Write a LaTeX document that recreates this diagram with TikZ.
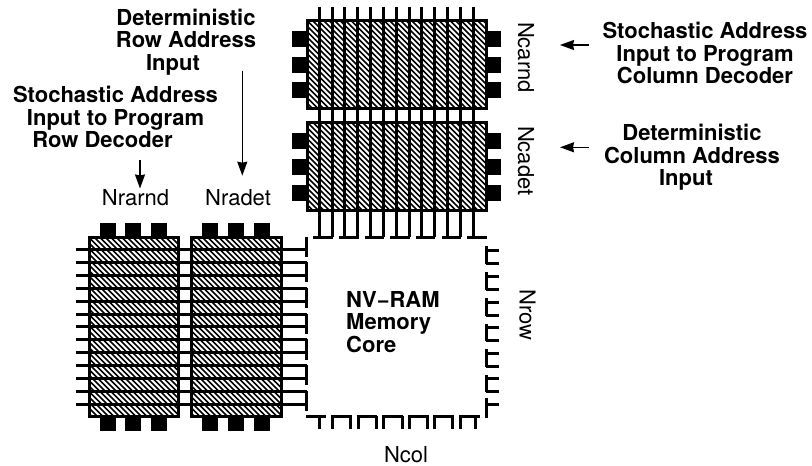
\documentclass[tikz,border=0pt]{standalone}
\usepackage{fontspec}
\setmainfont{TeX Gyre Heros}
\usetikzlibrary{arrows.meta}
\tikzset{
  hatchframe/.style={draw=black,line width=3pt},
  hatchline/.style={draw=black,line width=1.7pt},
  pad/.style={fill=black,draw=none},
  wire/.style={draw=black,line width=3pt,line cap=butt,line join=miter},
  combwire/.style={draw=black,line width=3pt,line cap=butt,line join=miter},
  boldlabel/.style={font=\bfseries\fontsize{22}{22.6}\selectfont,align=center,inner sep=0pt},
  corelabel/.style={font=\bfseries\fontsize{22}{22.4}\selectfont,align=left,inner sep=0pt},
  plainlabel/.style={font=\fontsize{22}{24}\selectfont,inner sep=0pt},
  pointer/.style={draw=black,line width=1.5pt,-{Stealth[length=14pt,width=10pt,inset=1pt]}}
}
\newcommand{\hatchblock}[4]{%
  \begin{scope}
    \clip (#1,#2) rectangle (#3,#4);
    \foreach \k in {-34,...,34}{
      \draw[hatchline] ({#1+5.5*\k},#2) -- ({#1+5.5*\k+200},{#2+200});
    }
  \end{scope}
  \draw[hatchframe] (#1,#2) rectangle (#3,#4);
}
\begin{document}
\begin{tikzpicture}[x=1pt,y=-1pt]
\useasboundingbox (0,0) rectangle (812,466);
% hatched blocks
\hatchblock{307}{20.5}{486}{108}
\hatchblock{307}{122}{486}{210.5}
\hatchblock{89}{237.5}{178}{416.5}
\hatchblock{191.5}{237.5}{281}{416.5}
% side pads of the top blocks
\foreach \y in {31,56.7,82.3,133.3,159,184.7}{
  \fill[pad] (292.3,\y) rectangle (305.5,\y+16);
  \fill[pad] (487.5,\y) rectangle (500.7,\y+16);
}
% top and bottom pads of the left blocks
\foreach \x in {99.7,125.3,151,202.3,228,253.7}{
  \fill[pad] (\x,223.3) rectangle (\x+16,236);
  \fill[pad] (\x,418) rectangle (\x+16,431);
}
% column wires through the top blocks
\foreach \i in {0,...,12}{
  \draw[wire] ({319.3+12.83*\i},7) -- ({319.3+12.83*\i},237);
}
\foreach \a/\b in {313.3/332.8,339/358.5,364.7/384,390.3/409.7,416/435.3,441.7/461,467.3/487}{
  \draw[combwire] (\a,237) -- (\b,237);
}
% row wires through the left blocks
\foreach \i in {0,...,12}{
  \draw[combwire] (75.7,{249.7+12.87*\i}) -- (306.7,{249.7+12.87*\i});
}
\foreach \a/\b in {236.7/256.7,261.5/282,287.5/308,313.5/334,339/359.5,365/385,391/410.5}{
  \draw[combwire] (306.7,\a) -- (306.7,\b);
}
% bottom comb of the core
\foreach \a/\b in {306/325.7,331/351.7,356.7/377,382.3/403,408/428.7,433.3/454,459/480}{
  \draw[combwire] (\a,416) -- (\b,416);
}
\foreach \x in {319.3,332.5,350,358,376,383.5,402,409,427,434.5,452.5,460,475}{
  \draw[combwire] (\x,416) -- (\x,429.3);
}
% right comb of the core
\foreach \a/\b in {246/263.5,272/289.5,298/315.5,323.5/341,349/366.5,374.5/392,398/417.5}{
  \draw[combwire] (486,\a) -- (486,\b);
}
\foreach \y in {250,263,276,289,302,315,327.5,340.5,353,366,378.5,391.5,404}{
  \draw[combwire] (486,\y) -- (499.3,\y);
}
% labels
\node[boldlabel] (detrow) at (186,42) {Deterministic\\Row Address\\Input\hspace*{26pt}};
\node[boldlabel] (stochrow) at (115.5,117) {Stochastic Address\\Input to Program\\Row Decoder\hspace*{26pt}};
\node[boldlabel] (stochcol) at (705,53) {Stochastic Address\\Input to Program\\Column Decoder};
\node[boldlabel] (detcol) at (692,157.5) {Deterministic\\Column Address\\Input\hspace*{12pt}};
\node[corelabel,anchor=west] (core) at (346,322) {NV−RAM\\Memory\\Core};
\node[plainlabel,anchor=base] (nrarnd) at (135.5,205) {Nrarnd};
\node[plainlabel,anchor=base] (nradet) at (238,205) {Nradet};
\node[plainlabel,anchor=base] (ncol) at (406,462) {Ncol};
\node[plainlabel,rotate=-90,anchor=base] (nrow) at (519.5,315) {Nrow};
\node[plainlabel,rotate=-90,anchor=base] (ncarnd) at (518,57.5) {Ncarnd};
\node[plainlabel,rotate=-90,anchor=base] (ncadet) at (518,160.8) {Ncadet};
% pointers
\coordinate (p1s) at (140,160); \coordinate (p1e) at (140,188.5);
\coordinate (p2s) at (242.3,70.7);  \coordinate (p2e) at (242.3,175.7);
\coordinate (p3s) at (589,45);  \coordinate (p3e) at (560,45);
\coordinate (p4s) at (589,147.3); \coordinate (p4e) at (560,147.3);
\draw[pointer] (p1s) -- (p1e);
\draw[pointer] (p2s) -- (p2e);
\draw[pointer] (p3s) -- (p3e);
\draw[pointer] (p4s) -- (p4e);
\end{tikzpicture}
\end{document}
